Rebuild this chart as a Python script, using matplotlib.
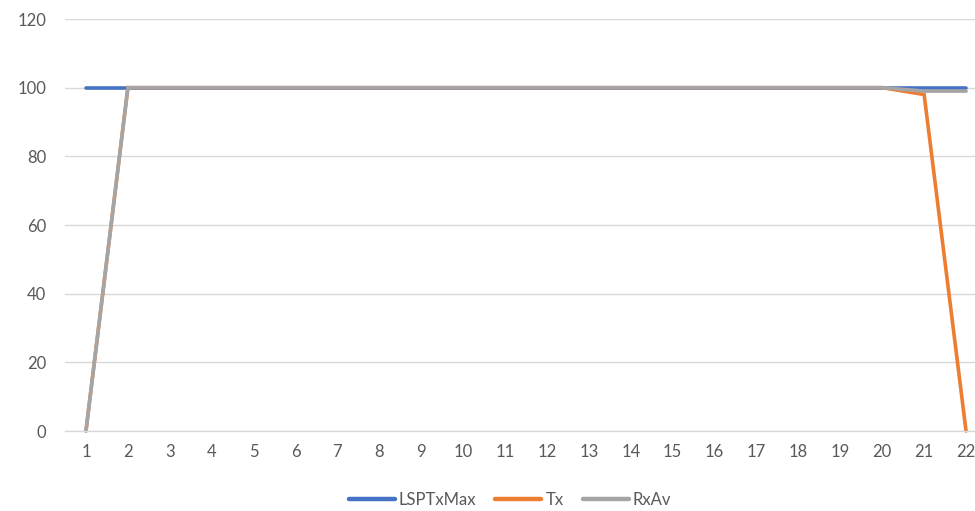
import matplotlib
matplotlib.use("Agg")
import matplotlib.pyplot as plt
from matplotlib.lines import Line2D

categories = list(range(1, 23))
lsp_tx_max = [100] * 22
tx = [0] + [100] * 19 + [98, 0]
rx_av = [0] + [100] * 19 + [99, 99]

series_names = ["LSPTxMax", "Tx", "RxAv"]
series_colors = ["#4472C4", "#ED7D31", "#A5A5A5"]
y_ticks = [0, 20, 40, 60, 80, 100, 120]

plt.rcParams["font.family"] = ["Lato", "DejaVu Sans"]

fig = plt.figure(figsize=(9.75, 5.11), dpi=100)
W, H = 975, 511
ax = fig.add_axes([65 / W, 1 - 431 / H, (987 - 65) / W, (431 - 19) / H])

for vals, name, col in zip([lsp_tx_max, tx, rx_av], series_names, series_colors):
    ax.plot(categories, vals, color=col, lw=2.6, label=name,
            solid_capstyle="round", solid_joinstyle="miter", clip_on=False)

ax.set_xlim(0.5, 22.5)
ax.set_ylim(0, 120)
ax.set_yticks(y_ticks)
ax.set_xticks(categories)
ax.set_xticklabels([str(c) for c in categories])
ax.grid(axis="y", color="#D9D9D9", lw=1)
ax.set_axisbelow(True)
for s in ["top", "right", "left"]:
    ax.spines[s].set_visible(False)
ax.spines["bottom"].set_color("#D9D9D9")
ax.spines["bottom"].set_linewidth(1)
ax.tick_params(axis="both", length=0, labelsize=12, colors="#595959")
ax.tick_params(axis="y", pad=13.5)
ax.tick_params(axis="x", pad=9)

handles = [Line2D([], [], color=c, lw=3.2, solid_capstyle="round") for c in series_colors]
fig.legend(handles, series_names, loc="center", bbox_to_anchor=(510 / W, 1 - 500 / H),
           ncol=3, frameon=False, fontsize=12, handlelength=2.75, handletextpad=0.25,
           columnspacing=1.15, labelcolor="#595959")

fig.savefig("out.png", dpi=100)
